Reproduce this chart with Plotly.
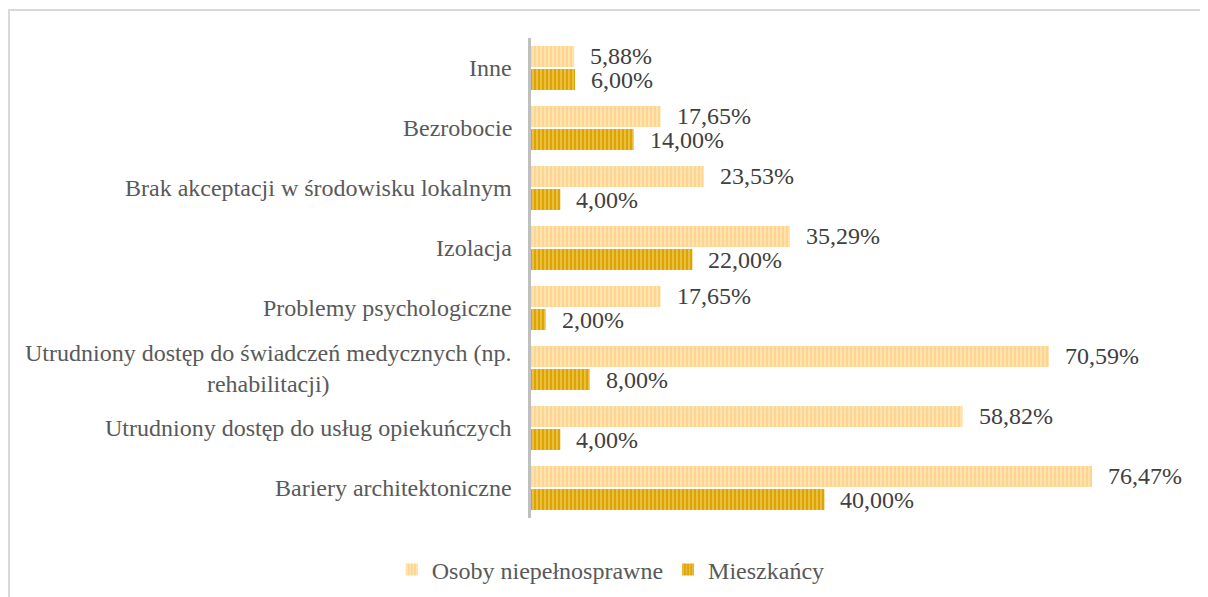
import plotly.graph_objects as go

# Categories (top to bottom as shown)
categories = [
    "Inne",
    "Bezrobocie",
    "Brak akceptacji w środowisku lokalnym",
    "Izolacja",
    "Problemy psychologiczne",
    "Utrudniony dostęp do świadczeń medycznych (np.<br>rehabilitacji)",
    "Utrudniony dostęp do usług opiekuńczych",
    "Bariery architektoniczne",
]
niepelnosprawne = [5.88, 17.65, 23.53, 35.29, 17.65, 70.59, 58.82, 76.47]
mieszkancy = [6.00, 14.00, 4.00, 22.00, 2.00, 8.00, 4.00, 40.00]
series_names = ["Osoby niepełnosprawne", "Mieszkańcy"]

FONT = "Liberation Serif"
FS = 24

# page has an 8px body margin, so layout is computed in figure coordinates
L, T, W, H = 523, 30, 675, 480


def fmt(v):
    return f"{v:.2f}".replace(".", ",") + "%"


fig = go.Figure()
fig.add_bar(y=categories, x=niepelnosprawne, orientation="h", name=series_names[0],
            marker=dict(color="#FED58E", line_width=0,
                        pattern=dict(shape="|", fgcolor="#FFE6B8", bgcolor="#FED58E",
                                     size=4, solidity=0.4, fillmode="replace")))
fig.add_bar(y=categories, x=mieszkancy, orientation="h", name=series_names[1],
            marker=dict(color="#DDA500", line_width=0,
                        pattern=dict(shape="|", fgcolor="#EFC454", bgcolor="#DDA500",
                                     size=4, solidity=0.4, fillmode="replace")))

annotations = []
# category labels (centered multi-line, right-anchored)
for c in categories:
    annotations.append(dict(x=0, xref="paper", y=c, yref="y", text=c, showarrow=False,
                            xanchor="right", xshift=-17, align="center",
                            font=dict(family=FONT, size=FS, color="#595959")))
# value labels
for c, v in zip(categories, niepelnosprawne):
    annotations.append(dict(x=v, y=c, text=fmt(v), showarrow=False, xanchor="left",
                            xshift=14, yshift=12, height=24,
                            font=dict(family=FONT, size=FS, color="#404040")))
for c, v in zip(categories, mieszkancy):
    annotations.append(dict(x=v, y=c, text=fmt(v), showarrow=False, xanchor="left",
                            xshift=14, yshift=-12, height=24,
                            font=dict(family=FONT, size=FS, color="#404040")))

fx = -L / W
fig.update_layout(
    width=1208, height=597,
    margin=dict(l=L, r=1208 - L - W, t=T, b=597 - T - H),
    plot_bgcolor="white", paper_bgcolor="white",
    barmode="group", bargap=0.233, bargroupgap=0.087,
    font=dict(family=FONT, size=FS, color="#595959"),
    xaxis=dict(range=[0, 92], visible=False, fixedrange=True),
    yaxis=dict(autorange="reversed", showticklabels=False, ticks="",
               showline=True, linecolor="#BFBFBF", linewidth=3, showgrid=False),
    legend=dict(orientation="h", xref="container", yref="container",
                x=0.499, y=0.059, xanchor="center", yanchor="middle",
                font=dict(family=FONT, size=FS, color="#595959"),
                itemwidth=30, traceorder="normal"),
    annotations=annotations,
    shapes=[
        dict(type="line", xref="paper", yref="paper",
             x0=fx + 1 / W, x1=fx + 1 / W, y0=(T + H - 2) / H, y1=-0.3,
             line=dict(color="#D9D9D9", width=2)),
        dict(type="line", xref="paper", yref="paper",
             x0=fx, x1=1.1, y0=(T + H - 2) / H, y1=(T + H - 2) / H,
             line=dict(color="#D9D9D9", width=2)),
    ],
)

fig.write_html("out.html")
